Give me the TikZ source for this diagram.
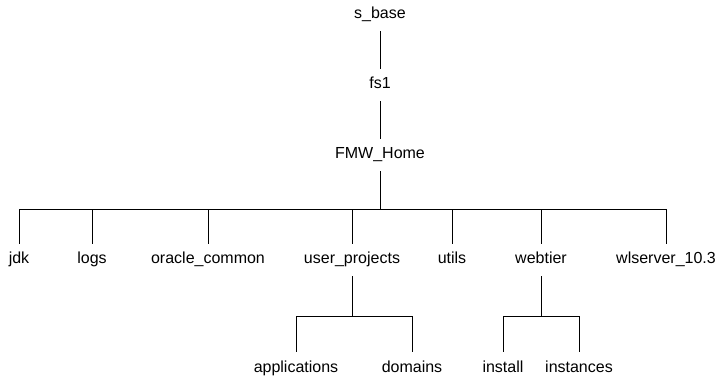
\documentclass[tikz,border=0pt]{standalone}
\usepackage{fontspec}
\setmainfont{Liberation Sans}
\usetikzlibrary{positioning}

\begin{document}
\begin{tikzpicture}[
    x=1pt, y=1pt,
    node distance=70pt,
    folder/.style={inner xsep=2pt, inner ysep=9pt, text height=11pt, text depth=3pt, font=\fontsize{16}{19}\selectfont},
    branch/.style={draw=black, line width=0.8pt}
]
\useasboundingbox (0,0) rectangle (716,-377);

% Nodes
\node (sbase) [folder] at (380,-15) {s\_base};
\node (fs) [folder, below of=sbase] {fs1};
\node (home) [folder, below of=fs] {FMW\_Home};
\node (jdk) [folder, below of=home, yshift=-35pt, xshift=-361pt] {jdk};
\node (logs) [folder, below of=home, yshift=-35pt, xshift=-288pt] {logs};
\node (oracle) [folder, below of=home, yshift=-35pt, xshift=-172pt] {oracle\_common};
\node (user) [folder, below of=home, yshift=-35pt, xshift=-28pt] {user\_projects};
\node (utils) [folder, below of=home, yshift=-35pt, xshift=72pt] {utils};
\node (web) [folder, below of=home, yshift=-35pt, xshift=161pt] {webtier};
\node (wls) [folder, below of=home, yshift=-35pt, xshift=286pt] {wlserver\_10.3};
\node (apps) [folder, below of=user, yshift=-38pt, xshift=-56pt] {applications};
\node (domains) [folder, below of=user, yshift=-38pt, xshift=60pt] {domains};
\node (install) [folder, below of=web, yshift=-38pt, xshift=-38pt] {install};
\node (inst) [folder, below of=web, yshift=-38pt, xshift=38pt] {instances};

% Branches
\draw [branch] (sbase) -- (fs);
\draw [branch] (fs) -- (home);
\foreach \c in {jdk,logs,oracle,user,utils,web,wls}
    \draw [branch] (home.south) -- ++(0,-38) -| (\c.north);
\foreach \c in {apps,domains}
    \draw [branch] (user.south) -- ++(0,-40) -| (\c.north);
\foreach \c in {install,inst}
    \draw [branch] (web.south) -- ++(0,-40) -| (\c.north);

\end{tikzpicture}
\end{document}
